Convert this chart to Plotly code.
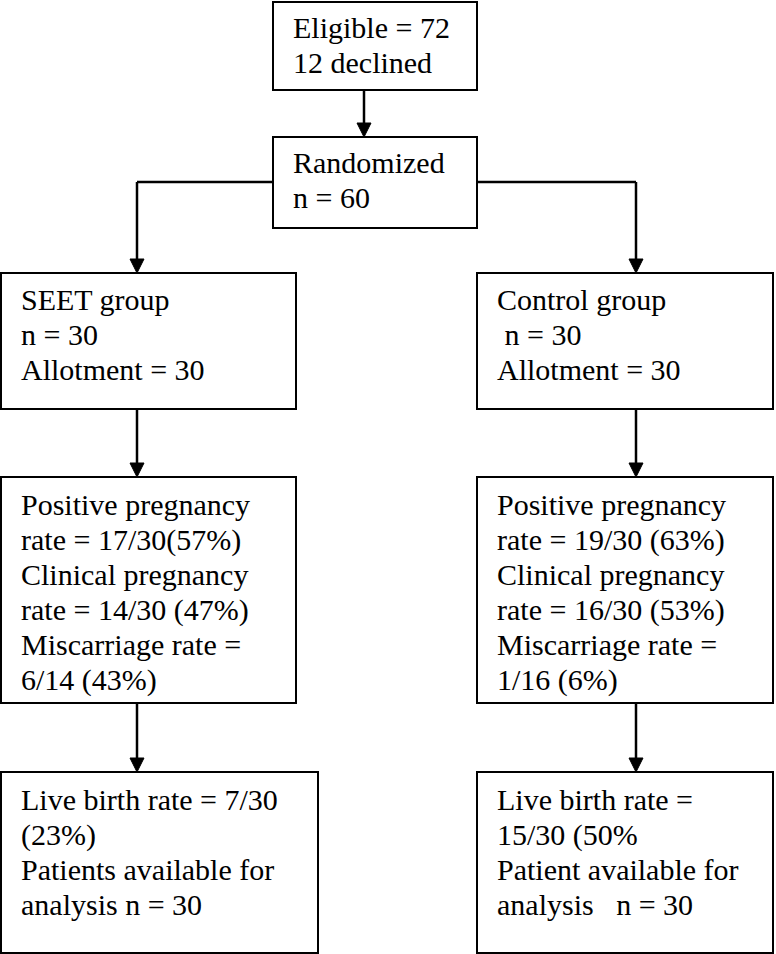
import plotly.graph_objects as go

# ---- Text content (data) ----
eligible_lines = ["Eligible = 72", "12 declined"]
randomized_lines = ["Randomized", "n = 60"]
seet_group_lines = ["SEET group", "n = 30", "Allotment = 30"]
control_group_lines = ["Control group", "&nbsp;n = 30", "Allotment = 30"]
seet_outcome_lines = ["Positive pregnancy", "rate = 17/30(57%)", "Clinical pregnancy",
                      "rate = 14/30 (47%)", "Miscarriage rate =", "6/14 (43%)"]
control_outcome_lines = ["Positive pregnancy", "rate = 19/30 (63%)", "Clinical pregnancy",
                         "rate = 16/30 (53%)", "Miscarriage rate =", "1/16 (6%)"]
seet_final_lines = ["Live birth rate = 7/30", "(23%)", "Patients available for",
                    "analysis n = 30"]
control_final_lines = ["Live birth rate =", "15/30 (50%", "Patient available for",
                       "analysis &nbsp;&nbsp;n = 30"]

# ---- Layout geometry (pixels, y downward) ----
W, H = 776, 954
boxes = [
    # x0, y0, x1, y1, lines, first baseline offset
    (273, 2, 477, 90, eligible_lines, 36),
    (273, 137, 477, 228, randomized_lines, 36),
    (1, 273, 296, 409, seet_group_lines, 37),
    (477, 273, 773, 409, control_group_lines, 37),
    (1, 477, 296, 703, seet_outcome_lines, 38),
    (477, 477, 773, 703, control_outcome_lines, 38),
    (1, 772, 318, 953, seet_final_lines, 38),
    (477, 772, 773, 953, control_final_lines, 38),
]
LINE_GAP = 35
FS = 30
PAD = 18
FONT = "Times New Roman"

fig = go.Figure()
shapes = []
annotations = []

for x0, y0, x1, y1, lines, off in boxes:
    shapes.append(dict(type="rect", xref="x", yref="y", x0=x0, y0=y0, x1=x1, y1=y1,
                       line=dict(color="black", width=2)))
    for i, t in enumerate(lines):
        baseline = y0 + off + i * LINE_GAP
        annotations.append(dict(x=x0 + PAD, y=baseline - 0.34 * FS, xref="x", yref="y",
                                text=t, showarrow=False, xanchor="left",
                                font=dict(family=FONT, size=FS, color="black")))

LW = 2.5


def line(xa, ya, xb, yb):
    shapes.append(dict(type="line", xref="x", yref="y", x0=xa, y0=ya, x1=xb, y1=yb,
                       line=dict(color="black", width=LW)))


def arrow(x, ya, yb):
    # vertical arrow from ya down to tip at yb
    line(x, ya, x, yb - 12)
    shapes.append(dict(type="path", xref="x", yref="y",
                       path=f"M {x-7},{yb-14} L {x+7},{yb-14} L {x},{yb} Z",
                       fillcolor="black", line=dict(color="black", width=1)))


cx_top = 364
cx_left = 137
cx_right = 636
branch_y = 182

arrow(cx_top, 90, 137)
line(cx_left, branch_y, 273, branch_y)
line(477, branch_y, cx_right, branch_y)
arrow(cx_left, branch_y, 273)
arrow(cx_right, branch_y, 273)
arrow(cx_left, 409, 477)
arrow(cx_right, 409, 477)
arrow(cx_left, 703, 772)
arrow(cx_right, 703, 772)

fig.update_layout(
    width=W, height=H,
    margin=dict(l=0, r=0, t=0, b=0),
    font=dict(family=FONT),
    plot_bgcolor="white",
    xaxis=dict(range=[0, W], visible=False, fixedrange=True),
    yaxis=dict(range=[H, 0], visible=False, fixedrange=True),
    shapes=shapes, annotations=annotations, showlegend=False,
)

fig.write_html("out.html", config={"displayModeBar": False},
               post_script="document.body.style.margin='0';")
